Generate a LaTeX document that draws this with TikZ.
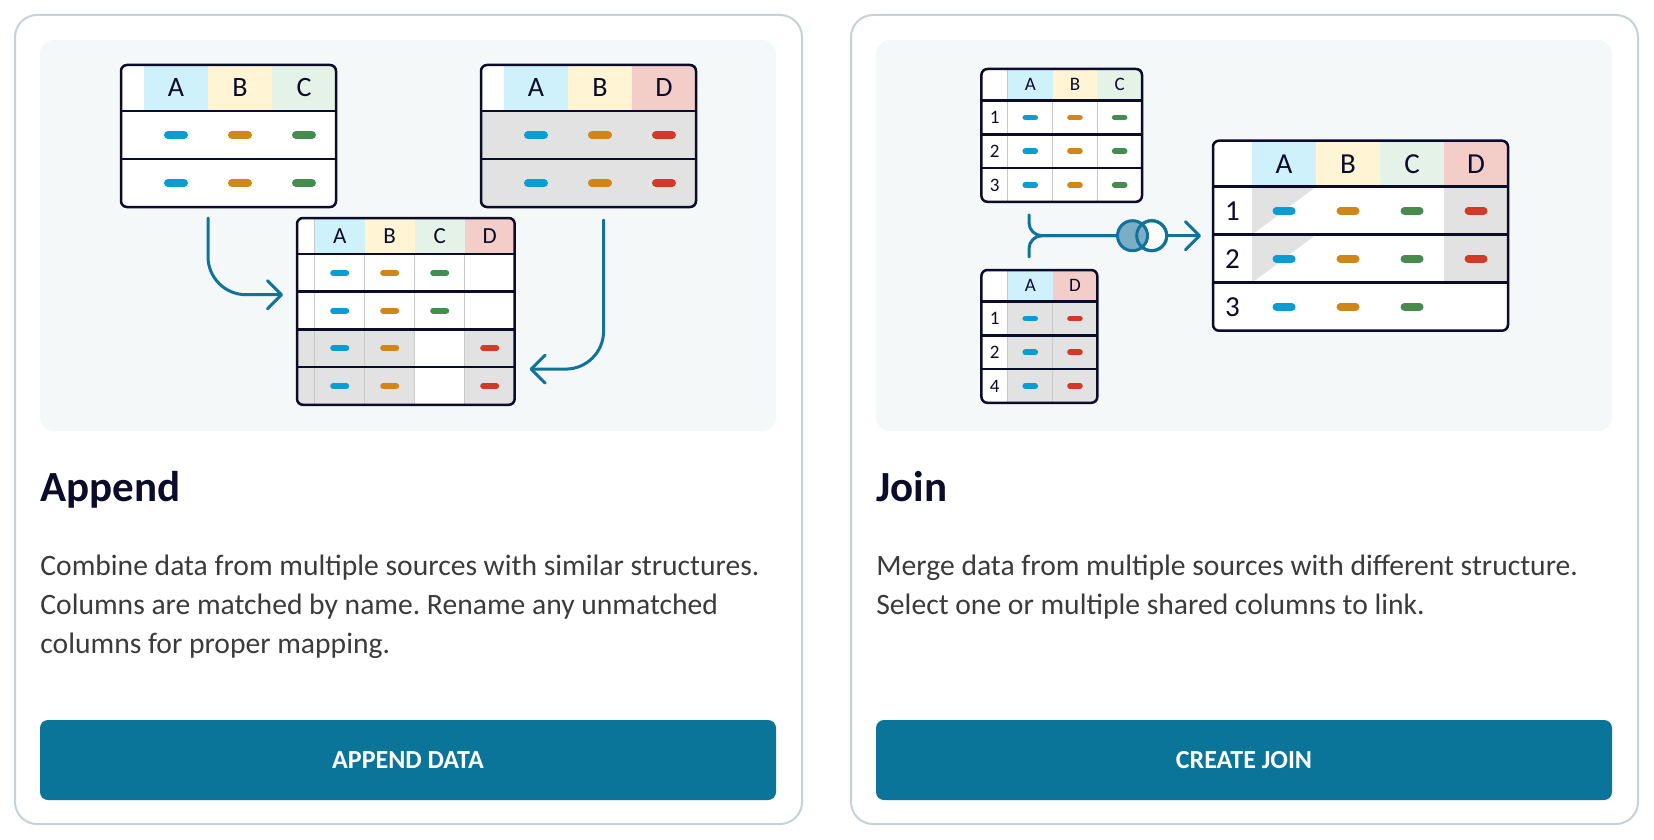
\documentclass[tikz,border=0pt]{standalone}
\usepackage{fontspec}
\setmainfont{Carlito}
\usepackage{tikz}
\usetikzlibrary{calc, arrows.meta, fit, positioning}
\pgfdeclarelayer{back}
\pgfdeclarelayer{fills}
\pgfsetlayers{back,fills,main}
\frenchspacing

\definecolor{ink}{HTML}{0B0B2A}
\definecolor{desctext}{HTML}{3B3B3B}
\definecolor{cardgray}{HTML}{C7D2D6}
\definecolor{panelbg}{HTML}{F4F8F9}
\definecolor{btnblue}{HTML}{0A7599}
\definecolor{flowblue}{HTML}{11729A}
\definecolor{vennblue}{HTML}{7AAEC7}
\definecolor{cellgray}{HTML}{E2E2E2}
\definecolor{sepgray}{HTML}{C9C9C9}
\definecolor{headA}{HTML}{CFF1FC}
\definecolor{headB}{HTML}{FFF5D4}
\definecolor{headC}{HTML}{E5F2E7}
\definecolor{headD}{HTML}{F3CDC7}
\definecolor{pillA}{HTML}{089DD3}
\definecolor{pillB}{HTML}{D08718}
\definecolor{pillC}{HTML}{468B50}
\definecolor{pillD}{HTML}{D23A27}

\def\pu{0.5pt}

\tikzset{
  hcell/.style={inner sep=0pt, outer sep=0pt, text=ink},
  dcell/.style={inner sep=0pt, outer sep=0pt, text=ink},
  rowline/.style={draw=ink, line width=1.25pt},
  tabframe/.style={draw=ink, line width=1.25pt, rounded corners=3pt},
  colsep/.style={draw=sepgray, line width=0.5pt},
  pill/.style={line cap=round},
  flow/.style={draw=flowblue, line width=1.5pt, line cap=round, rounded corners=19pt,
    -{Straight Barb[length=7pt, width=14pt, round]}},
  joinline/.style={draw=flowblue, line width=1.5pt, line cap=round, rounded corners=6.5pt},
  venn/.style={circle, draw=flowblue, line width=1.5pt, minimum size=30*\pu, inner sep=0pt},
  card/.style={draw=cardgray, line width=1pt, fill=white, rounded corners=11pt},
  panel/.style={fill=panelbg, rounded corners=7pt},
  title/.style={text=ink, inner sep=0pt, font=\bfseries\fontsize{21.5pt}{21.5pt}\selectfont},
  desc/.style={text=desctext, inner sep=0pt, font=\fontsize{14.8pt}{14.8pt}\selectfont},
  button/.style={fill=btnblue, rounded corners=4pt, text=white, minimum width=736*\pu,
    minimum height=80*\pu, font=\bfseries\fontsize{13pt}{13pt}\selectfont},
}

% #1 name, #2 corner, #3 index/col/header/row sizes, #4 letters/colours, #5 columns, #6 row labels, #7 font size
\newcommand{\datatab}[7]{%
  \foreach \iw/\cw/\hh/\rh in {#3} {
    \coordinate (#1-nw) at (#2);
    \node[hcell, minimum width=\iw*\pu, minimum height=\hh*\pu, anchor=north west] (#1-0-0) at (#1-nw) {};
    \foreach [count=\c] \l/\k in {#4}
      \node[hcell, fill=\k, font=\fontsize{#7}{#7}\selectfont, minimum width=\cw*\pu, minimum height=\hh*\pu,
        anchor=north west] (#1-0-\c) at ($(#1-nw)+({\iw+(\c-1)*\cw},0)$) {\l};
    \foreach [count=\r] \lab in {#6} {
      \node[dcell, font=\fontsize{#7}{#7}\selectfont, minimum width=\iw*\pu, minimum height=\rh*\pu,
        anchor=north west] (#1-\r-0) at ($(#1-nw)+(0,{\hh+(\r-1)*\rh})$) {\lab};
      \foreach \c in {1,...,#5}
        \node[dcell, minimum width=\cw*\pu, minimum height=\rh*\pu, anchor=north west]
          (#1-\r-\c) at ($(#1-nw)+({\iw+(\c-1)*\cw},{\hh+(\r-1)*\rh})$) {};
      \draw[rowline] (#1-\r-0.north west) -- (#1-\r-#5.north east);
      \xdef\lastrow{\r}
    }
  }
  \begin{pgfonlayer}{fills}
    \fill[white, rounded corners=3pt] (#1-0-0.north west) rectangle (#1-\lastrow-#5.south east);
  \end{pgfonlayer}
  \draw[tabframe] (#1-0-0.north west) rectangle (#1-\lastrow-#5.south east);
  \node[fit=(#1-0-0)(#1-\lastrow-#5), inner sep=0pt, outer sep=0pt] (#1) {};
}

% #1 table, #2 rows, #3 col/colour, #4 half length, #5 thickness
\newcommand{\pills}[5]{%
  \foreach \r in {#2} \foreach \c/\k in {#3}
    \draw[pill, draw=\k, line width=#5] ($(#1-\r-\c)+(-#4,0)$) -- ($(#1-\r-\c)+(#4,0)$);
}

\begin{document}
\begin{tikzpicture}[x=\pu, y=-\pu]
\useasboundingbox (0,0) rectangle (1654,840);
\begin{pgfonlayer}{back}
  \fill[white] (0,0) rectangle (1654,840);
  \draw[card] (15,15) rectangle (802,824);
  \draw[card] (851,15) rectangle (1638,824);
  \fill[panel] (40,40) rectangle (776,431);
  \fill[panel] (876,40) rectangle (1612,431);
\end{pgfonlayer}

%% Append
\datatab{app1}{121,65}{23/64/46/48}{A/headA,B/headB,C/headC}{3}{{},{}}{14pt}
\datatab{app2}{481,65}{23/64/46/48}{A/headA,B/headB,D/headD}{3}{{},{}}{14pt}
\datatab{appout}{297,218}{17.7/50/36/37.7}{A/headA,B/headB,C/headC,D/headD}{4}{{},{},{},{}}{11.5pt}
\begin{pgfonlayer}{fills}
  \fill[cellgray] (app2-1-0.north west) rectangle (app2-2-3.south east);
  \fill[cellgray] (appout-3-0.north west) rectangle (appout-4-2.south east);
  \fill[cellgray] (appout-3-4.north west) rectangle (appout-4-4.south east);
  \foreach \c in {0,...,3}
    \draw[colsep] (appout-0-\c.north east) -- (appout-4-\c.south east);
\end{pgfonlayer}
\pills{app1}{1,2}{1/pillA,2/pillB,3/pillC}{8}{4pt}
\pills{app2}{1,2}{1/pillA,2/pillB,3/pillD}{8}{4pt}
\pills{appout}{1,2}{1/pillA,2/pillB,3/pillC}{6.5}{3pt}
\pills{appout}{3,4}{1/pillA,2/pillB,4/pillD}{6.5}{3pt}
\draw[flow] ($(app1.south west)+(87,11)$) |- ($(appout-1-0.south west)+(-14,3)$);
\draw[flow] ($(app2.south west)+(122.6,13)$) |- ($(appout-3-4.south east)+(15,2)$);

\node[title, anchor=base west] (app-title) at (40,501) {Append};
\foreach [count=\i] \ln in {{Combine data from multiple sources with similar structures.},
    {Columns are matched by name. Rename any unmatched},{columns for proper mapping.}}
  \node[desc, anchor=base west] (app-d\i) at (40,{575+39*(\i-1)}) {\ln};
\node[button] (app-btn) at (408,760) {APPEND DATA};

%% Join
\datatab{join1}{981.4,69}{26.5/44.7/31.7/33.7}{A/headA,B/headB,C/headC}{3}{1,2,3}{9.5pt}
\datatab{join2}{981.4,270}{26.5/44.7/31.7/33.7}{A/headA,D/headD}{2}{1,2,4}{9.5pt}
\datatab{joinout}{1213,140.7}{39/64/46/48}{A/headA,B/headB,C/headC,D/headD}{4}{1,2,3}{14.5pt}
\begin{pgfonlayer}{fills}
  \fill[cellgray] (join2-1-1.north west) rectangle (join2-3-2.south east);
  \fill[cellgray] (joinout-1-4.north west) rectangle (joinout-2-4.south east);
  \foreach \r in {1,2}
    \fill[cellgray] (joinout-\r-1.north west) -- (joinout-\r-1.north east) -- (joinout-\r-1.south west) -- cycle;
  \foreach \c in {0,1,2}
    \draw[colsep] (join1-0-\c.north east) -- (join1-3-\c.south east);
  \foreach \c in {0,1}
    \draw[colsep] (join2-0-\c.north east) -- (join2-3-\c.south east);
\end{pgfonlayer}
\pills{join1}{1,2,3}{1/pillA,2/pillB,3/pillC}{5}{2.8pt}
\pills{join2}{1,2,3}{1/pillA,2/pillD}{5}{2.8pt}
\pills{joinout}{1,2}{1/pillA,2/pillB,3/pillC,4/pillD}{7.5}{4pt}
\pills{joinout}{3}{1/pillA,2/pillB,3/pillC}{7.5}{4pt}

\node[venn, fill=white] (venn-r) at ($(joinout.west)+(-61.3,0)$) {};
\node[venn, fill=vennblue] (venn-l) at ($(venn-r)+(-19.2,0)$) {};
\draw[draw=flowblue, line width=1.5pt] (venn-r.center) circle[radius=7.5pt];
\draw[joinline] ($(join1.south west)+(47.6,13)$) |- (venn-l.west);
\draw[joinline] ($(join2.north west)+(47.6,-13)$) |- (venn-l.west);
\draw[flow] (venn-r.east) -- ($(joinout.west)+(-12,0)$);

\node[title, anchor=base west] (join-title) at (876,501) {Join};
\foreach [count=\i] \ln in {{Merge data from multiple sources with different structure.},
    {Select one or multiple shared columns to link.}}
  \node[desc, anchor=base west] (join-d\i) at (876,{575+39*(\i-1)}) {\ln};
\node[button] (join-btn) at (1244,760) {CREATE JOIN};
\end{tikzpicture}
\end{document}
